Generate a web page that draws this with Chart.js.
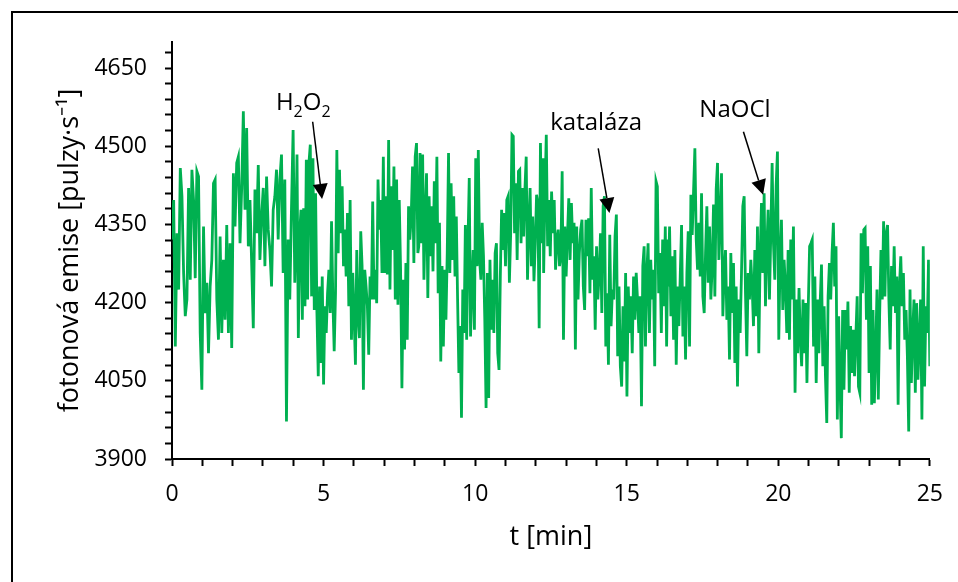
<!DOCTYPE html>
<html>
<head>
<meta charset="utf-8">
<script src="https://cdn.jsdelivr.net/npm/chart.js@4.4.0/dist/chart.umd.min.js"></script>
<style>
  html, body { margin: 0; padding: 0; background: #fff; overflow: hidden; }
  #wrap { position: relative; width: 958px; height: 582px; }
  #myChart { display: block; }
  #frame { position: absolute; left: 11px; top: 11px; width: 1000px; height: 1000px;
           border-left: 2px solid #000; border-top: 2px solid #000; pointer-events: none; }
</style>
</head>
<body>
<div id="wrap">
  <canvas id="myChart" width="958" height="582"></canvas>
  <div id="frame"></div>
</div>
<script>
// fotonova emise, odecteno po usecich grafu (t v min, emise v pulzech za s)
const segStart = [0, 4.08, 8.14, 12.26, 16.37, 20.51];
const segEnd = [4.05, 8.11, 12.24, 16.36, 20.50, 25];

const emise1 = [4321, 4397, 4116, 4333, 4225, 4458, 4404, 4257, 4174, 4206,
  4420, 4244, 4455, 4397, 4247, 4452, 4442, 4142, 4033, 4346,
  4180, 4238, 4103, 4231, 4282, 4429, 4436, 4206, 4129, 4327,
  4142, 4282, 4167, 4349, 4142, 4314, 4113, 4448, 4346, 4468,
  4480, 4314, 4420, 4567, 4378, 4535, 4308, 4397, 4276, 4151,
  4417, 4333, 4464, 4282, 4365, 4420, 4270, 4442, 4340, 4301,
  4231, 4378, 4404, 4455, 4321, 4436, 4484, 4257, 4436, 3972,
  4321, 4206, 4378, 4531, 4238];
const emise2 = [4308, 4484, 4132, 4333, 4378, 4167, 4381, 4193, 4474, 4206,
  4468, 4503, 4212, 4477, 4186, 4410, 4180, 4059, 4231, 4084,
  4250, 4043, 4193, 4142, 4218, 4263, 4180, 4356, 4206, 4107,
  4218, 4493, 4295, 4455, 4333, 4423, 4270, 4340, 4250, 4372,
  4193, 4397, 4129, 4257, 4174, 4081, 4301, 4174, 4132, 4337,
  4270, 4033, 4263, 4231, 4193, 4100, 4250, 4206, 4394, 4206,
  4263, 4199, 4436, 4340, 4397, 4257, 4480, 4257, 4404, 4254,
  4512, 4225, 4423, 4301, 4461, 4206, 4436, 4196, 4397, 4263,
  4036, 4244, 4110, 4276, 4129, 4385, 4321, 4365, 4461, 4276,
  4480, 4506, 4295];
const emise3 = [4308, 4487, 4314, 4484, 4244, 4365, 4448, 4209, 4404, 4289,
  4385, 4260, 4433, 4314, 4480, 4218, 4353, 4087, 4270, 4116,
  4263, 4167, 4295, 4487, 4257, 4429, 4282, 4404, 4250, 4365,
  4206, 4065, 4155, 3979, 4225, 4142, 4349, 4129, 4314, 4439,
  4135, 4231, 4301, 4148, 4477, 4270, 4493, 4282, 4244, 4353,
  4289, 4167, 3998, 4257, 4017, 4282, 4148, 4244, 4142, 4295,
  4314, 4103, 4071, 4250, 4378, 4301, 4372, 4270, 4397, 4404,
  4238, 4333, 4522, 4519, 4333, 4429, 4282, 4452, 4455, 4314,
  4420, 4327, 4417, 4480, 4244, 4346, 4420, 4270, 4365, 4241,
  4314, 4407, 4391, 4151, 4506, 4314, 4477];
const emise4 = [4257, 4410, 4522, 4308, 4397, 4289, 4413, 4333, 4397, 4263,
  4321, 4340, 4270, 4289, 4452, 4129, 4346, 4250, 4327, 4400,
  4282, 4391, 4314, 4353, 4110, 4346, 4206, 4295, 4340, 4359,
  4231, 4186, 4359, 4289, 4362, 4218, 4420, 4244, 4289, 4148,
  4308, 4206, 4257, 4333, 4180, 4385, 4404, 4116, 4218, 4081,
  4330, 4155, 4225, 4206, 4327, 4369, 4097, 4231, 4078, 4039,
  4193, 4087, 4257, 4020, 4231, 4142, 4212, 4103, 4250, 4167,
  4257, 4206, 4142, 4212, 4001, 4270, 4308, 4116, 4257, 4314,
  4142, 4282, 4206, 4263, 4078, 4433, 4423, 4218, 4295, 4142,
  4321, 4193, 4346, 4116, 4321];
const emise5 = [4231, 4346, 4174, 4289, 4129, 4301, 4081, 4231, 4155, 4250,
  4349, 4135, 4231, 4091, 4257, 4337, 4116, 4407, 4330, 4413,
  4496, 4321, 4263, 4353, 4250, 4410, 4212, 4180, 4295, 4385,
  4238, 4346, 4206, 4270, 4388, 4212, 4417, 4468, 4282, 4365,
  4448, 4174, 4257, 4301, 4167, 4231, 4091, 4295, 4180, 4276,
  4084, 4231, 4039, 4206, 4142, 4257, 4385, 4404, 4218, 4097,
  4257, 4206, 4282, 4231, 4155, 4301, 4174, 4346, 4103, 4289,
  4391, 4257, 4410, 4193, 4301, 4378, 4206, 4333, 4468, 4314,
  4244, 4423, 4490, 4129, 4282, 4359, 4186, 4282, 4231, 4142,
  4301, 4129, 4321, 4206, 4346];
const emise6 = [4346, 4027, 4206, 4103, 4228, 4129, 4078, 4206, 4103, 4199,
  4046, 4193, 4308, 4314, 4321, 4116, 4250, 4046, 4206, 4103,
  4199, 4273, 4078, 4193, 4059, 3969, 4212, 4276, 4206, 4295,
  4353, 4231, 4308, 3976, 4174, 4046, 3940, 4186, 4033, 4186,
  4110, 4202, 4027, 4155, 4065, 4148, 4059, 4135, 4212, 4039,
  4027, 4333, 4218, 4340, 4343, 4167, 4308, 4065, 4270, 4004,
  4186, 4007, 4103, 4225, 4014, 4174, 4301, 4206, 4356, 4212,
  4333, 4349, 4206, 4110, 4270, 4193, 4308, 4180, 4250, 4004,
  4231, 4289, 4193, 4257, 4129, 4186, 4097, 3953, 4225, 4046,
  4142, 4206, 4027, 4199, 4052, 4129, 4206, 3976, 4308, 4039,
  4193, 4142, 4282, 4078];
const segments = [emise1, emise2, emise3, emise4, emise5, emise6];

// osy
const xTicks = [];
for (let t = 0; t <= 25; t++) xTicks.push(t);
const yTicks = [];
for (let v = 3900; v <= 4680; v += 30) yTicks.push(v);

// popisky s sipkami (souradnice v jednotkach grafu)
const labelParts = [
  [['H', 0], ['2', 1], ['O', 0], ['2', 1]],
  [['kataláza', 0]],
  [['NaOCl', 0]]
];
const labelAt = [[4.33, 4570], [13.99, 4531], [18.57, 4556]];
const arrowFrom = [[4.64, 4547], [14.06, 4496], [18.85, 4528]];
const arrowTo = [[4.95, 4399], [14.43, 4372], [19.5, 4407]];

const FONT = "'Open Sans', sans-serif";

const points = [];
segments.forEach((arr, s) => {
  const step = (segEnd[s] - segStart[s]) / (arr.length - 1);
  arr.forEach((v, i) => points.push({ x: segStart[s] + i * step, y: v }));
});

function drawParts(ctx, parts, cx, baseY) {
  const main = '24px ' + FONT, sub = '16px ' + FONT;
  let w = 0;
  parts.forEach(p => { ctx.font = p[1] ? sub : main; w += ctx.measureText(p[0]).width; });
  let x = cx - w / 2;
  ctx.textAlign = 'left';
  ctx.textBaseline = 'alphabetic';
  parts.forEach(p => {
    ctx.font = p[1] ? sub : main;
    ctx.fillText(p[0], x, p[1] ? baseY + 7 : baseY);
    x += ctx.measureText(p[0]).width;
  });
}

function drawArrow(ctx, x0, y0, x1, y1) {
  const ang = Math.atan2(y1 - y0, x1 - x0);
  const len = 15, half = 7.5;
  const bx = x1 - len * Math.cos(ang), by = y1 - len * Math.sin(ang);
  ctx.lineWidth = 1.5;
  ctx.beginPath();
  ctx.moveTo(x0, y0);
  ctx.lineTo(bx, by);
  ctx.stroke();
  ctx.beginPath();
  ctx.moveTo(x1, y1);
  ctx.lineTo(bx + half * Math.sin(ang), by - half * Math.cos(ang));
  ctx.lineTo(bx - half * Math.sin(ang), by + half * Math.cos(ang));
  ctx.closePath();
  ctx.fill();
}

const sipky = {
  id: 'sipky',
  afterDatasetsDraw(chart) {
    const { ctx, scales: { x, y } } = chart;
    ctx.save();
    ctx.fillStyle = '#000';
    ctx.strokeStyle = '#000';
    labelParts.forEach((parts, i) => {
      drawParts(ctx, parts, x.getPixelForValue(labelAt[i][0]), y.getPixelForValue(labelAt[i][1]));
      drawArrow(ctx,
        x.getPixelForValue(arrowFrom[i][0]), y.getPixelForValue(arrowFrom[i][1]),
        x.getPixelForValue(arrowTo[i][0]), y.getPixelForValue(arrowTo[i][1]));
    });
    ctx.restore();
  }
};

const ctx = document.getElementById('myChart').getContext('2d');
const myChart = new Chart(ctx, {
  type: 'line',
  data: {
    datasets: [{
      data: points,
      borderColor: '#00B050',
      borderWidth: 2.8,
      pointRadius: 0,
      tension: 0,
      fill: false
    }]
  },
  options: {
    animation: false,
    responsive: false,
    layout: { padding: { left: 20, right: 27, top: 42, bottom: 0 } },
    plugins: {
      legend: { display: false },
      tooltip: { enabled: false }
    },
    scales: {
      x: {
        type: 'linear',
        min: 0,
        max: 25,
        afterBuildTicks: axis => { axis.ticks = xTicks.map(v => ({ value: v })); },
        afterFit: axis => { axis.height = 123; },
        grid: { drawOnChartArea: false, drawTicks: true, tickLength: 7, tickColor: '#000', tickWidth: 2 },
        border: { color: '#000', width: 2 },
        ticks: {
          autoSkip: false, maxRotation: 0, padding: 15, color: '#000',
          font: { family: FONT, size: 23 },
          callback: v => (v % 5 === 0 ? v : '')
        },
        title: {
          display: true, text: 't [min]', color: '#000',
          font: { family: FONT, size: 27 }, padding: { top: 0, bottom: 28 }
        }
      },
      y: {
        type: 'linear',
        min: 3900,
        max: 4700,
        afterBuildTicks: axis => { axis.ticks = yTicks.map(v => ({ value: v })); },
        afterFit: axis => { axis.width = 152; },
        grid: { drawOnChartArea: false, drawTicks: true, tickLength: 7, tickColor: '#000', tickWidth: 2 },
        border: { color: '#000', width: 2 },
        ticks: {
          autoSkip: false, padding: 18, color: '#000',
          font: { family: FONT, size: 23 },
          callback: v => ((v - 3900) % 150 === 0 ? v : '')
        },
        title: {
          display: true, text: 'fotonová emise [pulzy·s⁻¹]', color: '#000',
          font: { family: FONT, size: 27 }, padding: { top: 34, bottom: 0 }
        }
      }
    }
  },
  plugins: [sipky]
});
</script>
</body>
</html>
